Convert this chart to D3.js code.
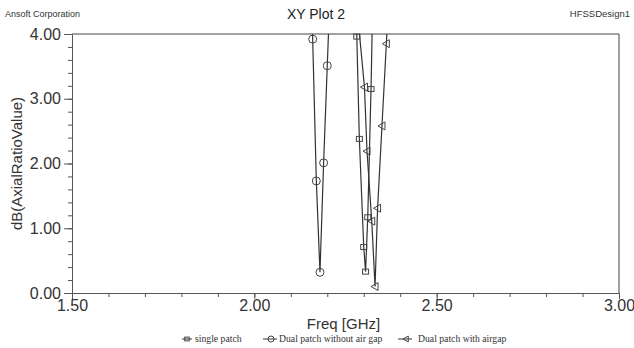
<!DOCTYPE html>
<html>
<head>
<meta charset="utf-8">
<script src="https://cdn.jsdelivr.net/npm/d3@7"></script>
<style>
  body { margin: 0; background: #fff; }
  svg { font-family: Arial, "Liberation Sans", sans-serif; }
</style>
</head>
<body>
<div id="wrapper"></div>
<script>
// series (freq GHz, dB axial ratio)
const singlePatchFreq = [2.270, 2.281, 2.288, 2.300, 2.305, 2.311, 2.320, 2.326]
const singlePatchAR   = [6.40, 3.96, 2.38, 0.71, 0.33, 1.17, 3.15, 4.90]

const noGapFreq = [2.150, 2.160, 2.170, 2.180, 2.190, 2.200, 2.210]
const noGapAR   = [6.10, 3.92, 1.73, 0.32, 2.01, 3.51, 5.00]

const airGapFreq = [2.280, 2.302, 2.309, 2.322, 2.331, 2.338, 2.350, 2.362, 2.372]
const airGapAR   = [4.50, 3.18, 2.19, 1.11, 0.10, 1.31, 2.58, 3.85, 5.00]

const legendLabels = ['single patch', 'Dual patch without air gap', 'Dual patch with airgap']
const xTicks = [1.5, 2.0, 2.5, 3.0]
const yTicks = [0, 1, 2, 3, 4]

function drawChart() {
  const dimensions = {
    width: 634,
    height: 348,
    margin: { top: 34, right: 15, bottom: 55, left: 72 }
  }
  dimensions.boundedWidth = dimensions.width - dimensions.margin.left - dimensions.margin.right
  dimensions.boundedHeight = dimensions.height - dimensions.margin.top - dimensions.margin.bottom

  const series = [
    { name: legendLabels[0], marker: 'square', data: singlePatchFreq.map((f, i) => [f, singlePatchAR[i]]) },
    { name: legendLabels[1], marker: 'circle', data: noGapFreq.map((f, i) => [f, noGapAR[i]]) },
    { name: legendLabels[2], marker: 'triangle', data: airGapFreq.map((f, i) => [f, airGapAR[i]]) }
  ]

  const wrapper = d3.select('#wrapper')
    .append('svg')
      .attr('width', dimensions.width)
      .attr('height', dimensions.height)

  // header texts
  wrapper.append('text')
      .attr('x', 5).attr('y', 17)
      .attr('font-size', 9).attr('fill', '#333')
      .text('Ansoft Corporation')
  wrapper.append('text')
      .attr('x', 630).attr('y', 17)
      .attr('text-anchor', 'end')
      .attr('font-size', 9.5).attr('fill', '#333')
      .text('HFSSDesign1')
  wrapper.append('text')
      .attr('x', 316).attr('y', 19)
      .attr('text-anchor', 'middle')
      .attr('font-size', 14).attr('fill', '#222')
      .text('XY Plot 2')

  const bounds = wrapper.append('g')
    .attr('transform', `translate(${dimensions.margin.left}, ${dimensions.margin.top})`)

  //scales
  const xScale = d3.scaleLinear()
    .domain([1.5, 3.0])
    .range([0, dimensions.boundedWidth])

  const yScale = d3.scaleLinear()
    .domain([0, 4])
    .range([dimensions.boundedHeight, 0])

  // minor ticks
  bounds.append('g')
      .attr('transform', `translate(0, ${dimensions.boundedHeight})`)
      .call(d3.axisBottom(xScale).tickValues(d3.range(1.6, 3.0, 0.1)).tickSize(4).tickFormat(''))
      .call(g => g.select('.domain').remove())
  bounds.append('g')
      .call(d3.axisLeft(yScale).tickValues(d3.range(0.2, 4, 0.2)).tickSize(4).tickFormat(''))
      .call(g => g.select('.domain').remove())

  // major axes
  const xAxis = bounds.append('g')
      .attr('transform', `translate(0, ${dimensions.boundedHeight})`)
      .call(d3.axisBottom(xScale).tickValues(xTicks).tickSize(6).tickSizeOuter(0).tickFormat(d3.format('.2f')))
  xAxis.selectAll('text')
      .attr('font-size', 16).attr('fill', '#333')
      .attr('y', 7)
      .attr('font-family', 'Arial, "Liberation Sans", sans-serif')

  const yAxis = bounds.append('g')
      .call(d3.axisLeft(yScale).tickValues(yTicks).tickSize(8).tickSizeOuter(0).tickFormat(d3.format('.2f')))
  yAxis.selectAll('text')
      .attr('font-size', 16).attr('fill', '#333')
      .attr('x', -11)
      .attr('font-family', 'Arial, "Liberation Sans", sans-serif')

  bounds.selectAll('.tick line').attr('stroke', '#555')
  bounds.selectAll('.domain').attr('stroke', '#555')

  // frame top/right
  bounds.append('path')
      .attr('d', `M0,0H${dimensions.boundedWidth}V${dimensions.boundedHeight}`)
      .attr('fill', 'none')
      .attr('stroke', '#444')

  // axis titles
  bounds.append('text')
      .attr('x', dimensions.boundedWidth / 2 - 2)
      .attr('y', dimensions.boundedHeight + 36)
      .attr('text-anchor', 'middle')
      .attr('font-size', 15).attr('fill', '#333')
      .text('Freq [GHz]')
  bounds.append('text')
      .attr('transform', `translate(${-50}, ${dimensions.boundedHeight / 2}) rotate(-90)`)
      .attr('text-anchor', 'middle')
      .attr('font-size', 15).attr('fill', '#333')
      .text('dB(AxialRatioValue)')

  // curves
  bounds.append('clipPath')
      .attr('id', 'plot-clip')
    .append('rect')
      .attr('width', dimensions.boundedWidth)
      .attr('height', dimensions.boundedHeight)

  const lineGenerator = d3.line()
    .x(d => xScale(d[0]))
    .y(d => yScale(d[1]))

  const curves = bounds.append('g').attr('clip-path', 'url(#plot-clip)')

  series.forEach(s => {
    curves.append('path')
        .attr('d', lineGenerator(s.data))
        .attr('fill', 'none')
        .attr('stroke', '#333')
        .attr('stroke-width', 1.2)

    const pts = s.data.filter(d => d[1] <= 4 && d[1] >= 0)
    drawMarkers(bounds, pts.map(d => [xScale(d[0]), yScale(d[1])]), s.marker)
  })

  // legend
  const legendX = [182, 263, 398]
  const legendTextX = [195, 279, 418]
  const legendY = 339
  series.forEach((s, i) => {
    wrapper.append('line')
        .attr('x1', legendX[i]).attr('x2', legendX[i] + (i == 0 ? 10 : 14))
        .attr('y1', legendY).attr('y2', legendY)
        .attr('stroke', '#333')
    drawMarkers(wrapper, [[legendX[i] + (i == 0 ? 5 : 8), legendY]], s.marker, true)
    wrapper.append('text')
        .attr('x', legendTextX[i]).attr('y', legendY + 3)
        .attr('font-family', '"Liberation Serif", "Times New Roman", serif')
        .attr('font-size', 9.7).attr('fill', '#333')
        .text(s.name)
  })
}

function drawMarkers(sel, pts, type, small) {
  const k = small ? 0.75 : 1
  const g = sel.append('g')
    .attr('fill', 'none')
    .attr('stroke', '#444')
    .attr('stroke-width', 1)
  if (type == 'circle') {
    g.selectAll('circle').data(pts).join('circle')
        .attr('cx', d => d[0]).attr('cy', d => d[1]).attr('r', 4 * k)
  } else if (type == 'square') {
    g.selectAll('rect').data(pts).join('rect')
        .attr('x', d => d[0] - 3 * k).attr('y', d => d[1] - 2.5 * k)
        .attr('width', 6 * k).attr('height', 5 * k)
  } else {
    g.selectAll('path').data(pts).join('path')
        .attr('d', d => `M${d[0] - 4 * k},${d[1]}L${d[0] + 3 * k},${d[1] - 4 * k}L${d[0] + 3 * k},${d[1] + 4 * k}Z`)
  }
}

drawChart()
</script>
</body>
</html>
